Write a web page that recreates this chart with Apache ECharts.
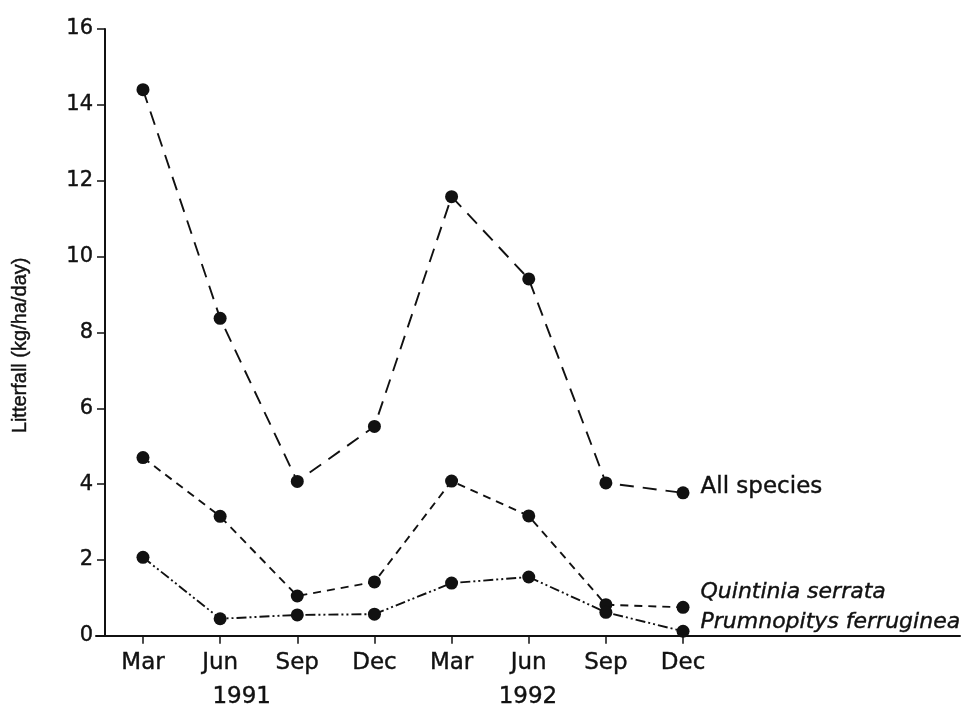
<!DOCTYPE html>
<html>
<head>
<meta charset="utf-8">
<script src="https://cdn.jsdelivr.net/npm/echarts@6/dist/echarts.min.js"></script>
<style>
  html, body { margin: 0; padding: 0; background: #fff; }
  #chart { width: 967px; height: 709px; }
</style>
</head>
<body>
<div id="chart"></div>
<script>
// Sampling months (two years of quarterly collections)
const months = ['Mar', 'Jun', 'Sep', 'Dec', 'Mar', 'Jun', 'Sep', 'Dec'];
const years = ['1991', '1992'];
const yearPositions = [1.28, 4.99];

// Litterfall, kg/ha/day
const allSpecies = [14.4, 8.37, 4.07, 5.52, 11.58, 9.41, 4.03, 3.77];
const quintinia = [4.7, 3.15, 1.05, 1.42, 4.08, 3.16, 0.82, 0.75];
const prumnopitys = [2.07, 0.45, 0.55, 0.57, 1.39, 1.55, 0.62, 0.12];

const seriesNames = ['All species', 'Quintinia serrata', 'Prumnopitys ferruginea'];
const yTicks = [0, 2, 4, 6, 8, 10, 12, 14, 16];

const FONT = '"DejaVu Sans", "Liberation Sans", Arial, sans-serif';
const NAME_FONT = '"Liberation Sans", Arial, Helvetica, sans-serif';
const INK = '#111';
// a hairline outline gives the print-like weight of the lettering
const inked = { textBorderColor: INK, textBorderWidth: 0.4 };

const idx = months.map((_, i) => i);
const toPairs = arr => arr.map((v, i) => [i, v]);

function makeSeries(name, data, dash, labelStyle) {
  return {
    name: name,
    type: 'line',
    data: toPairs(data),
    symbol: 'circle',
    symbolSize: 13,
    itemStyle: { color: INK },
    lineStyle: { color: INK, width: 1.9, type: dash },
    label: {
      show: true,
      position: 'right',
      distance: 11,
      color: INK,
      fontFamily: FONT,
      fontSize: 23,
      ...inked,
      formatter: p => (p.dataIndex === data.length - 1 ? name : ''),
      ...labelStyle
    },
    emphasis: { disabled: true },
    animation: false
  };
}

const chart = echarts.init(document.getElementById('chart'), null, { renderer: 'canvas' });

chart.setOption({
  backgroundColor: '#fff',
  grid: { left: 96, right: 7, top: 29, bottom: 72 },
  xAxis: [
    {
      type: 'value',
      min: -0.609,
      max: 10.59,
      axisLine: { show: true, onZero: false, lineStyle: { color: INK, width: 2 } },
      axisTick: {
        show: true, inside: false, length: 8,
        customValues: idx,
        lineStyle: { color: INK, width: 1.5 }
      },
      axisLabel: {
        show: true,
        customValues: idx,
        formatter: v => months[Math.round(v)],
        color: INK, fontFamily: FONT, fontSize: 23, margin: 16, ...inked
      },
      splitLine: { show: false }
    },
    {
      type: 'value',
      position: 'bottom',
      min: -0.609,
      max: 10.59,
      axisLine: { show: false },
      axisTick: { show: false },
      axisLabel: {
        show: true,
        customValues: yearPositions,
        formatter: v => years[yearPositions.indexOf(v)],
        color: INK, fontFamily: FONT, fontSize: 23, margin: 50, ...inked
      },
      splitLine: { show: false }
    }
  ],
  yAxis: {
    type: 'value',
    min: 0,
    max: 16,
    interval: 2,
    offset: -9,
    name: 'Litterfall (kg/ha/day)',
    nameLocation: 'middle',
    nameGap: 75,
    nameRotate: 90,
    nameTextStyle: { color: INK, fontFamily: NAME_FONT, fontSize: 20, padding: [0, 26, 0, 0], ...inked },
    axisLine: { show: true, onZero: false, lineStyle: { color: INK, width: 2 } },
    axisTick: { show: true, inside: false, length: 8, lineStyle: { color: INK, width: 1.5 } },
    axisLabel: {
      color: INK, fontFamily: FONT, fontSize: 21, margin: 12, ...inked,
      formatter: v => (yTicks.indexOf(v) >= 0 ? String(v) : '')
    },
    splitLine: { show: false }
  },
  series: [
    makeSeries(seriesNames[0], allSpecies, [14, 9], { offset: [0, -6] }),
    makeSeries(seriesNames[1], quintinia, [8, 6], { fontStyle: 'italic', fontSize: 22, offset: [0, -15] }),
    makeSeries(seriesNames[2], prumnopitys, [10, 3, 2, 3, 2, 3], { fontStyle: 'italic', fontSize: 22, offset: [0, -9] })
  ]
});
</script>
</body>
</html>
